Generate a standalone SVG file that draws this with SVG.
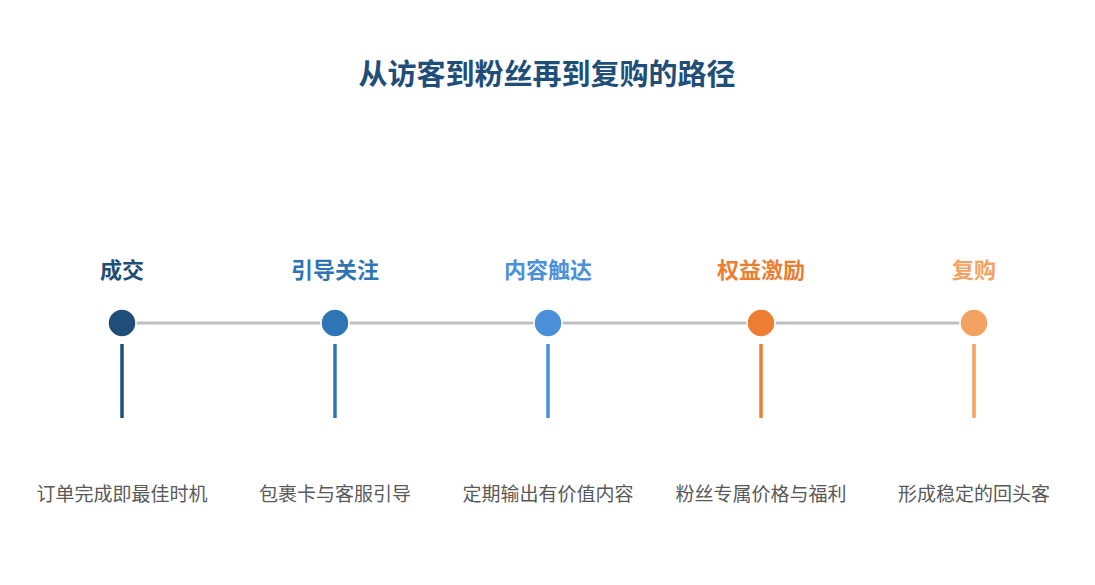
<svg xmlns="http://www.w3.org/2000/svg" width="1095" height="585" viewBox="0 0 1095 585">
<style>
text{font-family:"Liberation Sans","Noto Sans CJK SC",sans-serif;text-anchor:middle}
.t{font-size:22px;font-weight:bold}
.d{font-size:19px;fill:#595959}
.c{stroke:#fff;stroke-width:1.5}
.v{stroke-width:3.5}
.a{stroke:#bfbfbf;stroke-width:3;fill:none;marker-end:url(#ah)}
</style>
<defs><marker id="ah" markerWidth="8" markerHeight="8" refX="6" refY="4" orient="auto" markerUnits="userSpaceOnUse"><path d="M1,1 L6,4 L1,7" fill="none" stroke="#bfbfbf" stroke-width="2"/></marker></defs>
<rect width="1095" height="585" fill="#fff"/>
<text x="547" y="85" style="font-size:29px;font-weight:bold;fill:#1f4e79">从访客到粉丝再到复购的路径</text>
<g id="connectors">
<line class="a" x1="136" y1="323" x2="326" y2="323"/>
<line class="a" x1="349" y1="323" x2="539" y2="323"/>
<line class="a" x1="562" y1="323" x2="752" y2="323"/>
<line class="a" x1="775" y1="323" x2="965" y2="323"/>
</g>
<g id="n1"><text class="t" x="122" y="278" fill="#1f4e79">成交</text><circle class="c" cx="122" cy="323" r="14" fill="#1f4e79"/><line class="v" x1="122" y1="344" x2="122" y2="418" stroke="#1f4e79"/><text class="d" x="122" y="501">订单完成即最佳时机</text></g>
<g id="n2"><text class="t" x="335" y="278" fill="#2e75b6">引导关注</text><circle class="c" cx="335" cy="323" r="14" fill="#2e75b6"/><line class="v" x1="335" y1="344" x2="335" y2="418" stroke="#2e75b6"/><text class="d" x="335" y="501">包裹卡与客服引导</text></g>
<g id="n3"><text class="t" x="548" y="278" fill="#4a90d9">内容触达</text><circle class="c" cx="548" cy="323" r="14" fill="#4a90d9"/><line class="v" x1="548" y1="344" x2="548" y2="418" stroke="#4a90d9"/><text class="d" x="548" y="501">定期输出有价值内容</text></g>
<g id="n4"><text class="t" x="761" y="278" fill="#ed7d31">权益激励</text><circle class="c" cx="761" cy="323" r="14" fill="#ed7d31"/><line class="v" x1="761" y1="344" x2="761" y2="418" stroke="#ed7d31"/><text class="d" x="761" y="501">粉丝专属价格与福利</text></g>
<g id="n5"><text class="t" x="974" y="278" fill="#f4a261">复购</text><circle class="c" cx="974" cy="323" r="14" fill="#f4a261"/><line class="v" x1="974" y1="344" x2="974" y2="418" stroke="#f4a261"/><text class="d" x="974" y="501">形成稳定的回头客</text></g>
</svg>
